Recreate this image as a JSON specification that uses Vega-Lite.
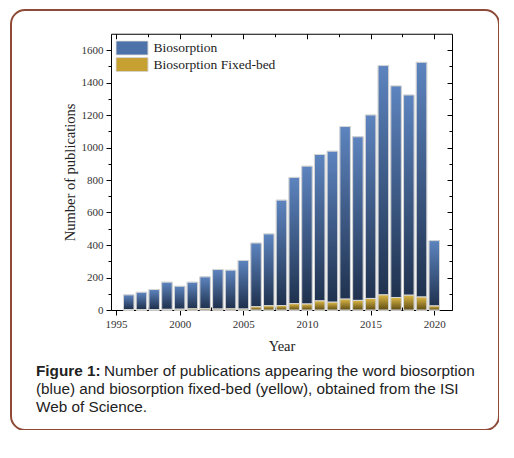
{
  "$schema": "https://vega.github.io/schema/vega-lite/v6.json",
  "width": 488,
  "height": 420,
  "padding": {"left": 11, "top": 10, "right": 0, "bottom": 0},
  "background": "white",
  "config": {
    "view": {"stroke": "#8e4a36", "strokeWidth": 2, "cornerRadius": 14, "fill": "white"},
    "axis": {
      "grid": false,
      "labelFont": "Liberation Serif",
      "labelFontSize": 11,
      "labelColor": "#333333",
      "titleFont": "Liberation Serif",
      "titleFontSize": 14.5,
      "titleFontWeight": "normal",
      "titleColor": "#222222",
      "domainColor": "#000000",
      "tickColor": "#000000",
      "domainWidth": 1,
      "tickWidth": 1
    }
  },
  "title": {
    "text": "Figure 1:",
    "subtitle": [
      "\u200b\u00a0\u00a0\u00a0\u00a0\u00a0\u00a0\u00a0\u00a0\u00a0\u00a0\u00a0\u00a0\u00a0\u00a0\u00a0\u00a0Number of publications appearing the word biosorption",
      "(blue) and biosorption fixed-bed (yellow), obtained from the ISI",
      "Web of Science."
    ],
    "orient": "bottom",
    "anchor": "start",
    "frame": "group",
    "offset": -66,
    "dx": 25,
    "baseline": "top",
    "font": "Liberation Sans",
    "fontSize": 15.3,
    "fontWeight": "bold",
    "color": "#222222",
    "subtitleFont": "Liberation Sans",
    "subtitleFontSize": 15.3,
    "subtitleColor": "#222222",
    "subtitleLineHeight": 18,
    "subtitlePadding": -15.3
  },
  "data": {
    "values": [
      {"year": 1996, "Biosorption": 93, "FixedBed": 2},
      {"year": 1997, "Biosorption": 109, "FixedBed": 2},
      {"year": 1998, "Biosorption": 126, "FixedBed": 3},
      {"year": 1999, "Biosorption": 171, "FixedBed": 4},
      {"year": 2000, "Biosorption": 146, "FixedBed": 5},
      {"year": 2001, "Biosorption": 171, "FixedBed": 7},
      {"year": 2002, "Biosorption": 204, "FixedBed": 8},
      {"year": 2003, "Biosorption": 249, "FixedBed": 6},
      {"year": 2004, "Biosorption": 245, "FixedBed": 7},
      {"year": 2005, "Biosorption": 305, "FixedBed": 6},
      {"year": 2006, "Biosorption": 412, "FixedBed": 20},
      {"year": 2007, "Biosorption": 468, "FixedBed": 26},
      {"year": 2008, "Biosorption": 676, "FixedBed": 27},
      {"year": 2009, "Biosorption": 816, "FixedBed": 39},
      {"year": 2010, "Biosorption": 885, "FixedBed": 37},
      {"year": 2011, "Biosorption": 957, "FixedBed": 56},
      {"year": 2012, "Biosorption": 977, "FixedBed": 48},
      {"year": 2013, "Biosorption": 1129, "FixedBed": 67},
      {"year": 2014, "Biosorption": 1066, "FixedBed": 59},
      {"year": 2015, "Biosorption": 1200, "FixedBed": 71},
      {"year": 2016, "Biosorption": 1504, "FixedBed": 93},
      {"year": 2017, "Biosorption": 1379, "FixedBed": 77},
      {"year": 2018, "Biosorption": 1323, "FixedBed": 91},
      {"year": 2019, "Biosorption": 1524, "FixedBed": 80},
      {"year": 2020, "Biosorption": 427, "FixedBed": 25}
    ]
  },
  "resolve": {"axis": {"x": "independent", "y": "independent"}},
  "layer": [
    {
      "mark": {"type": "bar", "orient": "vertical", "size": 10.5, "stroke": "#d6d6d6", "strokeWidth": 1},
      "encoding": {
        "x": {
          "field": "year", "type": "quantitative",
          "scale": {"domain": [1995, 2021], "range": [100, 441], "nice": false, "zero": false},
          "axis": {
            "orient": "bottom", "offset": -120, "title": "Year", "titlePadding": 10,
            "values": [1995, 2000, 2005, 2010, 2015, 2020], "format": "d",
            "tickSize": 5, "labelPadding": 3
          }
        },
        "y": {
          "field": "Biosorption", "type": "quantitative",
          "scale": {"domain": [0, 1700], "range": [300, 23.75], "nice": false},
          "axis": {
            "orient": "left", "offset": -100, "title": "Number of publications", "titlePadding": 4,
            "values": [0, 200, 400, 600, 800, 1000, 1200, 1400, 1600], "format": "d",
            "tickSize": 5, "labelPadding": 3
          }
        },
        "color": {
          "datum": "Biosorption",
          "scale": {"domain": ["Biosorption", "Biosorption Fixed-bed"], "range": ["#4d72aa", "#c6a030"]},
          "legend": {
            "title": null,
            "orient": "none",
            "legendX": 104.5,
            "legendY": 30.5,
            "padding": 0,
            "symbolType": "M-1,-0.44H1V0.44H-1Z",
            "symbolSize": 1024,
            "symbolStrokeColor": "#333333",
            "symbolStrokeWidth": 1,
            "clipHeight": 15,
            "rowPadding": 1.6,
            "labelFont": "Liberation Serif",
            "labelFontSize": 13.5,
            "labelColor": "#222222",
            "labelOffset": 5
          }
        }
      }
    },
    {
      "mark": {
        "type": "bar", "orient": "vertical", "size": 10.5, "stroke": "#d6d6d6", "strokeWidth": 1,
        "fill": {
          "gradient": "linear", "x1": 0, "y1": 0, "x2": 0, "y2": 1,
          "stops": [{"offset": 0, "color": "#5d84bf"}, {"offset": 1, "color": "#1c2d48"}]
        }
      },
      "encoding": {
        "x": {
          "field": "year", "type": "quantitative",
          "axis": {
            "orient": "bottom", "offset": -120, "title": null, "labels": false, "domain": false,
            "values": [1997.5, 2002.5, 2007.5, 2012.5, 2017.5], "tickSize": -3
          }
        },
        "y": {
          "field": "Biosorption", "type": "quantitative",
          "axis": {
            "orient": "left", "offset": -100, "title": null, "labels": false, "domain": false,
            "values": [100, 300, 500, 700, 900, 1100, 1300, 1500], "tickSize": 3
          }
        }
      }
    },
    {
      "mark": {"type": "bar", "orient": "vertical", "size": 10.5, "stroke": "#d6d6d6", "strokeWidth": 1},
      "encoding": {
        "x": {
          "field": "year", "type": "quantitative",
          "axis": {
            "orient": "top", "offset": -23.75, "title": null, "labels": false,
            "values": [1995, 2000, 2005, 2010, 2015, 2020], "tickSize": -5
          }
        },
        "y": {
          "field": "FixedBed", "type": "quantitative",
          "axis": {
            "orient": "right", "offset": -47, "title": null, "labels": false,
            "values": [0, 200, 400, 600, 800, 1000, 1200, 1400, 1600], "tickSize": -5
          }
        },
        "color": {"datum": "Biosorption Fixed-bed"}
      }
    },
    {
      "mark": {
        "type": "bar", "orient": "vertical", "size": 10.5, "stroke": "#d6d6d6", "strokeWidth": 1,
        "fill": {
          "gradient": "linear", "x1": 0, "y1": 0, "x2": 0, "y2": 1,
          "stops": [{"offset": 0, "color": "#dcb846"}, {"offset": 1, "color": "#5e4c14"}]
        }
      },
      "encoding": {
        "x": {
          "field": "year", "type": "quantitative",
          "axis": {
            "orient": "top", "offset": -23.75, "title": null, "labels": false, "domain": false,
            "values": [1997.5, 2002.5, 2007.5, 2012.5, 2017.5], "tickSize": -3
          }
        },
        "y": {
          "field": "FixedBed", "type": "quantitative",
          "axis": {
            "orient": "right", "offset": -47, "title": null, "labels": false, "domain": false,
            "values": [100, 300, 500, 700, 900, 1100, 1300, 1500], "tickSize": -3
          }
        }
      }
    }
  ]
}
